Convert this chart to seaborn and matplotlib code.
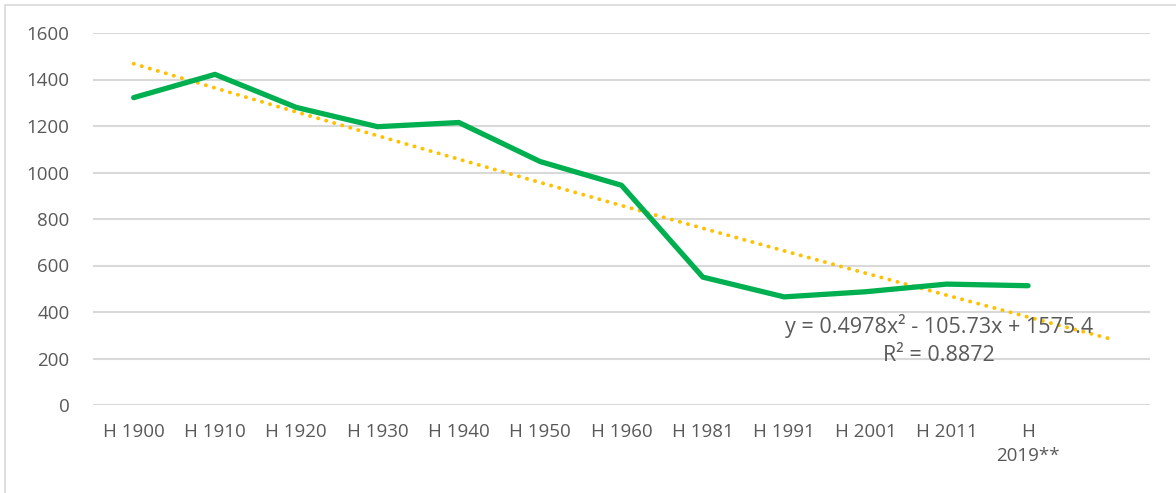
import numpy as np
import pandas as pd
import matplotlib
matplotlib.use("Agg")
import matplotlib.pyplot as plt
from matplotlib.patches import Rectangle
import seaborn as sns

# -------------------------------------------------------------------
# Data
# -------------------------------------------------------------------
categories = ["H 1900", "H 1910", "H 1920", "H 1930", "H 1940", "H 1950",
              "H 1960", "H 1981", "H 1991", "H 2001", "H 2011", "H\n2019**"]
values = [1322, 1422, 1280, 1197, 1215, 1047, 945, 550, 465, 487, 520, 513]
y_ticks = [0, 200, 400, 600, 800, 1000, 1200, 1400, 1600]
equation_text = "y = 0.4978x\u00b2 - 105.73x + 1575.4\nR\u00b2 = 0.8872"
forecast_periods = 1

GREEN = "#00B050"
GOLD = "#FFC000"
GRID = "#D9D9D9"
TEXT = "#595959"

sns.set_theme(style="white")
plt.rcParams["font.family"] = ["Open Sans", "DejaVu Sans"]

df = pd.DataFrame({"pos": np.arange(len(values)), "value": values})

# polynomial (order 2) trendline, Excel-style x = 1..n, forecast 1 period
x_fit = np.arange(1, len(values) + 1)
coef = np.polyfit(x_fit, values, 2)
x_trend = np.arange(1, len(values) + 1 + forecast_periods)
trend = pd.DataFrame({"pos": x_trend - 1, "value": np.polyval(coef, x_trend)})

fig = plt.figure(figsize=(11.76, 4.93), dpi=100)
ax = fig.add_axes([93 / 1176, 1 - 405 / 493, (1150 - 93) / 1176, (405 - 33) / 493])

sns.lineplot(data=trend, x="pos", y="value", ax=ax, color=GOLD, lw=2.8,
             linestyle=(0, (0.05, 2.1)), dash_capstyle="round", zorder=2)
sns.lineplot(data=df, x="pos", y="value", ax=ax, color=GREEN, lw=3.8,
             solid_capstyle="round", solid_joinstyle="round", zorder=3)

ax.set_xlim(-0.5, len(values) - 0.5 + forecast_periods)
ax.set_ylim(0, 1600)
ax.set_yticks(y_ticks)
ax.set_yticklabels([str(v) for v in y_ticks])
ax.set_xticks(np.arange(len(categories)))
ax.set_xticklabels(categories, linespacing=1.4)
ax.tick_params(axis="both", length=0, labelsize=13.5, colors=TEXT)
ax.tick_params(axis="x", pad=13)
ax.tick_params(axis="y", pad=17)
ax.set_xlabel("")
ax.set_ylabel("")
ax.grid(axis="y", color=GRID, lw=1.5)
ax.set_axisbelow(True)
for s in ax.spines.values():
    s.set_visible(False)

fig.text(939 / 1176, 1 - 340 / 493, equation_text, ha="center", va="center",
         fontsize=15.5, color=TEXT, linespacing=1.45)

# outer chart border
fig.patches.append(Rectangle((5 / 1176, -0.02), 1.1, (493 - 5) / 493 + 0.02,
                             transform=fig.transFigure, fill=False,
                             edgecolor=GRID, lw=1.2))

fig.savefig("out.png", dpi=100)
plt.close(fig)
